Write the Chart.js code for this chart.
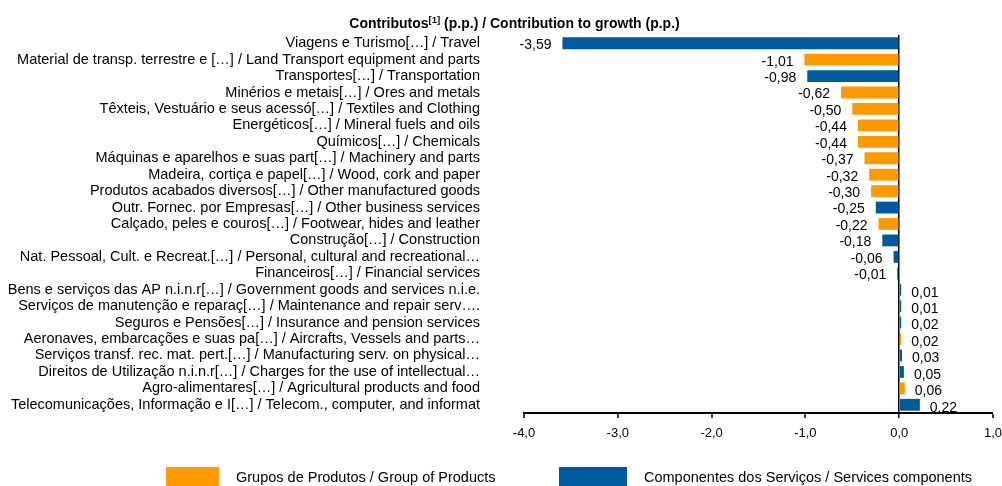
<!DOCTYPE html>
<html>
<head>
<meta charset="utf-8">
<script src="https://cdn.jsdelivr.net/npm/chart.js@4.4.1/dist/chart.umd.min.js"></script>
<style>
  html, body { margin: 0; padding: 0; background: #fff; }
  #wrap { width: 1002px; height: 486px; position: relative; }
</style>
</head>
<body>
<div id="wrap"><canvas id="c" width="1002" height="486"></canvas></div>
<script>
const categories = [
  "Viagens e Turismo[…] / Travel",
  "Material de transp. terrestre e […] / Land Transport equipment and parts",
  "Transportes[…] / Transportation",
  "Minérios e metais[…] / Ores and metals",
  "Têxteis, Vestuário e seus acessó[…] / Textiles and Clothing",
  "Energéticos[…] / Mineral fuels and oils",
  "Químicos[…] / Chemicals",
  "Máquinas e aparelhos e suas part[…] / Machinery and parts",
  "Madeira, cortiça e papel[…] / Wood, cork and paper",
  "Produtos acabados diversos[…] / Other manufactured goods",
  "Outr. Fornec. por Empresas[…] / Other business services",
  "Calçado, peles e couros[…] / Footwear, hides and leather",
  "Construção[…] / Construction",
  "Nat. Pessoal, Cult. e Recreat.[…] / Personal, cultural and recreational…",
  "Financeiros[…] / Financial services",
  "Bens e serviços das AP n.i.n.r[…] / Government goods and services n.i.e.",
  "Serviços de manutenção e reparaç[…] / Maintenance and repair serv….",
  "Seguros e Pensões[…] / Insurance and pension services",
  "Aeronaves, embarcações e suas pa[…] / Aircrafts, Vessels and parts…",
  "Serviços transf. rec. mat. pert.[…] / Manufacturing serv. on physical…",
  "Direitos de Utilização n.i.n.r[…] / Charges for the use of intellectual…",
  "Agro-alimentares[…] / Agricultural products and food",
  "Telecomunicações, Informação e I[…] / Telecom., computer, and informat"
];
// Grupos de Produtos / Group of Products
const productValues = [null, -1.01, null, -0.62, -0.50, -0.44, -0.44, -0.37, -0.32, -0.30, null, -0.22, null, null, null, null, null, null, 0.02, null, null, 0.06, null];
// Componentes dos Serviços / Services components
const serviceValues = [-3.59, null, -0.98, null, null, null, null, null, null, null, -0.25, null, -0.18, -0.06, -0.01, 0.01, 0.01, 0.02, null, 0.03, 0.05, null, 0.22];
const xTicks = [-4, -3, -2, -1, 0, 1];
const seriesNames = ["Grupos de Produtos / Group of Products", "Componentes dos Serviços / Services components"];
const titleParts = ["Contributos", "[1]", " (p.p.) / Contribution to growth (p.p.)"];

const ORANGE = '#FF9900';
const BLUE = '#005A9E';
const FONT = "'Liberation Sans', Arial, sans-serif";
const fmt = v => v.toFixed(2).replace('.', ',');

const titlePlugin = {
  id: 'titlePlugin',
  afterDraw(chart) {
    const ctx = chart.ctx;
    ctx.save();
    ctx.fillStyle = '#000';
    ctx.textBaseline = 'alphabetic';
    const big = "bold 14px " + FONT, small = "bold 9.5px " + FONT;
    ctx.font = big; const w1 = ctx.measureText(titleParts[0]).width;
    const w3 = ctx.measureText(titleParts[2]).width;
    ctx.font = small; const w2 = ctx.measureText(titleParts[1]).width;
    const total = w1 + w2 + w3;
    let x = 514.5 - total / 2;
    const y = 28;
    ctx.textAlign = 'left';
    ctx.font = big; ctx.fillText(titleParts[0], x, y); x += w1;
    ctx.font = small; ctx.fillText(titleParts[1], x, y - 5); x += w2;
    ctx.font = big; ctx.fillText(titleParts[2], x, y);
    ctx.restore();
  }
};

const valueLabels = {
  id: 'valueLabels',
  afterDatasetsDraw(chart) {
    const ctx = chart.ctx;
    ctx.save();
    ctx.font = "14px " + FONT;
    ctx.fillStyle = '#000';
    ctx.textBaseline = 'middle';
    chart.data.datasets.forEach((ds, di) => {
      const meta = chart.getDatasetMeta(di);
      meta.data.forEach((el, i) => {
        const v = ds.data[i];
        if (v === null || v === undefined) return;
        if (v < 0) { ctx.textAlign = 'right'; ctx.fillText(fmt(v), el.x - 11, el.y + 2); }
        else { ctx.textAlign = 'left'; ctx.fillText(fmt(v), el.x + 10, el.y + 3); }
      });
    });
    ctx.restore();
  }
};

const legendPlugin = {
  id: 'legendPlugin',
  afterDraw(chart) {
    const ctx = chart.ctx;
    ctx.save();
    const items = [
      { color: ORANGE, bx: 166, bw: 53, tx: 236, text: seriesNames[0] },
      { color: BLUE, bx: 559, bw: 68, tx: 644, text: seriesNames[1] }
    ];
    ctx.font = "14.5px " + FONT;
    ctx.textBaseline = 'middle';
    ctx.textAlign = 'left';
    items.forEach(it => {
      ctx.fillStyle = it.color;
      ctx.fillRect(it.bx, 467, it.bw, 19);
      ctx.fillStyle = '#000';
      ctx.fillText(it.text, it.tx, 478);
    });
    ctx.restore();
  }
};

new Chart(document.getElementById('c'), {
  type: 'bar',
  data: {
    labels: categories,
    datasets: [
      { label: seriesNames[0], data: productValues, backgroundColor: ORANGE, grouped: false, barPercentage: 0.9, categoryPercentage: 0.8, minBarLength: 2 },
      { label: seriesNames[1], data: serviceValues, backgroundColor: BLUE, grouped: false, barPercentage: 0.9, categoryPercentage: 0.8, minBarLength: 2 }
    ]
  },
  options: {
    indexAxis: 'y',
    responsive: false,
    animation: false,
    layout: { padding: { top: 35, right: 9, left: 0, bottom: 0 } },
    plugins: { legend: { display: false }, title: { display: false }, tooltip: { enabled: false } },
    scales: {
      x: {
        type: 'linear',
        min: -4, max: 1,
        afterBuildTicks: s => { s.ticks = xTicks.map(v => ({ value: v })); },
        afterFit: s => { s.height = 73; s.paddingLeft = 0; s.paddingRight = 0; },
        ticks: {
          font: { family: FONT, size: 13 },
          color: '#000',
          padding: 8,
          maxRotation: 0,
          callback: v => v.toFixed(1).replace('.', ',')
        },
        grid: {
          color: c => (c.tick && c.tick.value === 0) ? '#000' : 'rgba(0,0,0,0)',
          lineWidth: c => (c.tick && c.tick.value === 0) ? 1.5 : 0,
          tickColor: '#000',
          tickLength: 5,
          tickWidth: 1.5,
          drawTicks: true
        },
        border: { display: true, color: '#000', width: 2 }
      },
      y: {
        afterFit: s => { s.width = 524; s.paddingTop = 0; s.paddingBottom = 0; },
        ticks: {
          font: { family: FONT, size: 14.5 },
          color: '#000',
          padding: 44,
          autoSkip: false
        },
        grid: { display: false, drawTicks: false },
        border: { display: false }
      }
    }
  },
  plugins: [titlePlugin, valueLabels, legendPlugin]
});
</script>
</body>
</html>
